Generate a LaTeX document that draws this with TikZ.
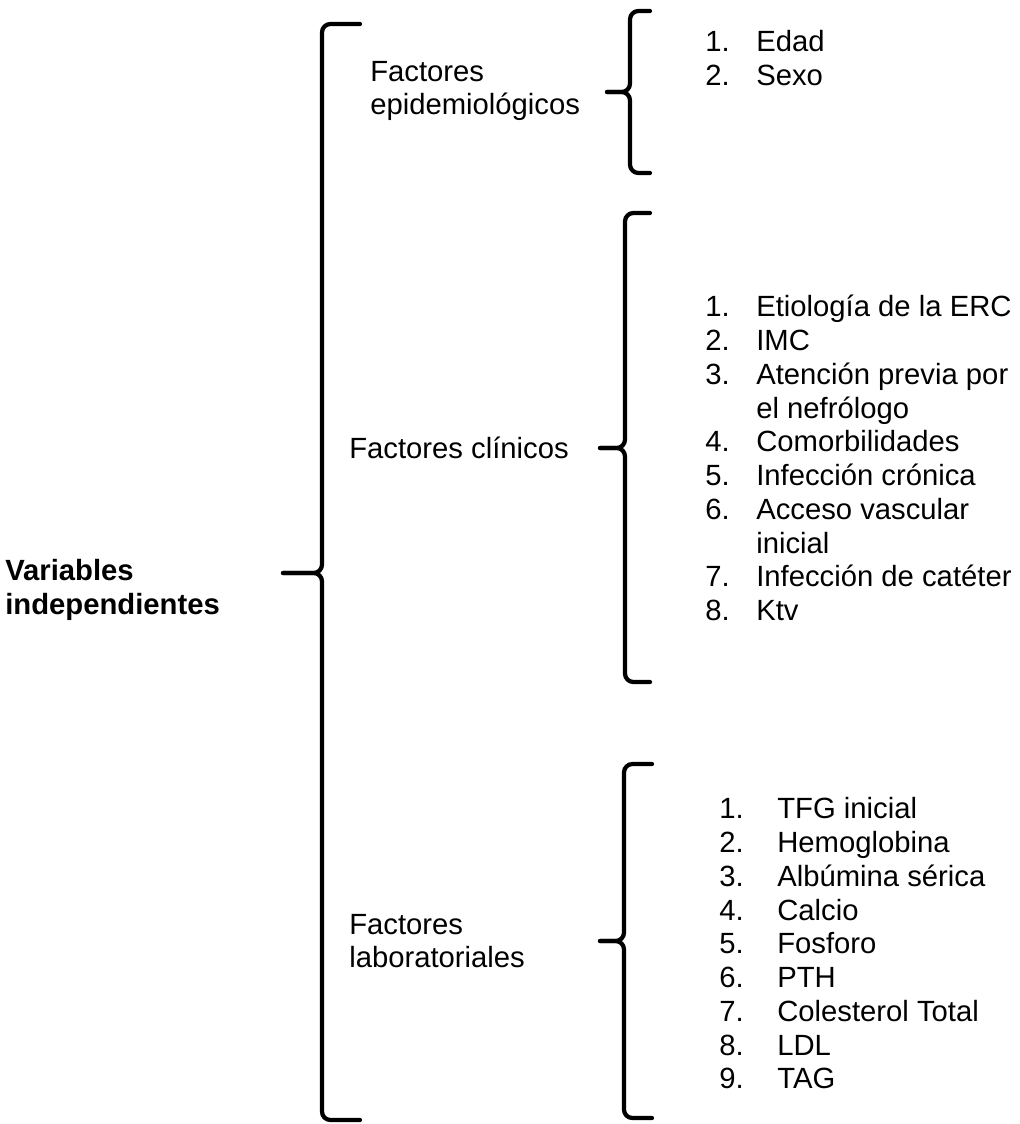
\documentclass[tikz,border=0pt]{standalone}
\usepackage{fontspec}
\setmainfont{Liberation Sans}
\usepackage{array}
% curly bracket: x of the stem, x of the tip, x of the hooks, y top, y tip, y bottom
\newcommand{\curlybrace}[6]{%
  \draw[brace] (#3,#4) -- (#1,#4) -- (#1,#5) -- (#2,#5);
  \draw[brace] (#3,#6) -- (#1,#6) -- (#1,#5) -- (#2,#5);
}
\tikzset{
  brace/.style={line width=3pt, line cap=round, rounded corners=6pt},
  txt/.style={anchor=west, inner sep=0pt, align=left, font=\fontsize{20.8}{24}\selectfont},
  bigtxt/.style={txt, font=\fontsize{20.8}{24}\selectfont\bfseries}
}
\begin{document}
\begin{tikzpicture}[x=0.025cm, y=-0.025cm]
  \useasboundingbox (0,0) rectangle (1019,1124);
  % braces
  \curlybrace{322}{283}{360}{24}{573}{1120}
  \curlybrace{630}{607}{650}{11}{92}{173}
  \curlybrace{625}{600}{650}{213}{448}{682}
  \curlybrace{624}{600}{652}{764}{941}{1118}
  % left labels
  \node[bigtxt] (vind) at (5,590) {Variables\\independientes};
  \node[txt] (epi) at (370,91) {Factores\\epidemiológicos};
  \node[txt] (cli) at (349,448) {Factores clínicos};
  \node[txt] (lab) at (349,941) {Factores\\laboratoriales};
  % lists
  \node[txt] (epilist) at (705,62) {%
    \begin{tabular}{@{}p{1.275cm}@{}l@{}}
      1. & Edad\\
      2. & Sexo
    \end{tabular}};
  \node[txt] (clilist) at (705,462) {%
    \begin{tabular}{@{}p{1.275cm}@{}l@{}}
      1. & Etiología de la ERC\\
      2. & IMC\\
      3. & Atención previa por\\
         & el nefrólogo\\
      4. & Comorbilidades\\
      5. & Infección crónica\\
      6. & Acceso vascular\\
         & inicial\\
      7. & Infección de catéter\\
      8. & Ktv
    \end{tabular}};
  \node[txt] (lablist) at (719,947) {%
    \begin{tabular}{@{}p{1.45cm}@{}l@{}}
      1. & TFG inicial\\
      2. & Hemoglobina\\
      3. & Albúmina sérica\\
      4. & Calcio\\
      5. & Fosforo\\
      6. & PTH\\
      7. & Colesterol Total\\
      8. & LDL\\
      9. & TAG
    \end{tabular}};
\end{tikzpicture}
\end{document}
